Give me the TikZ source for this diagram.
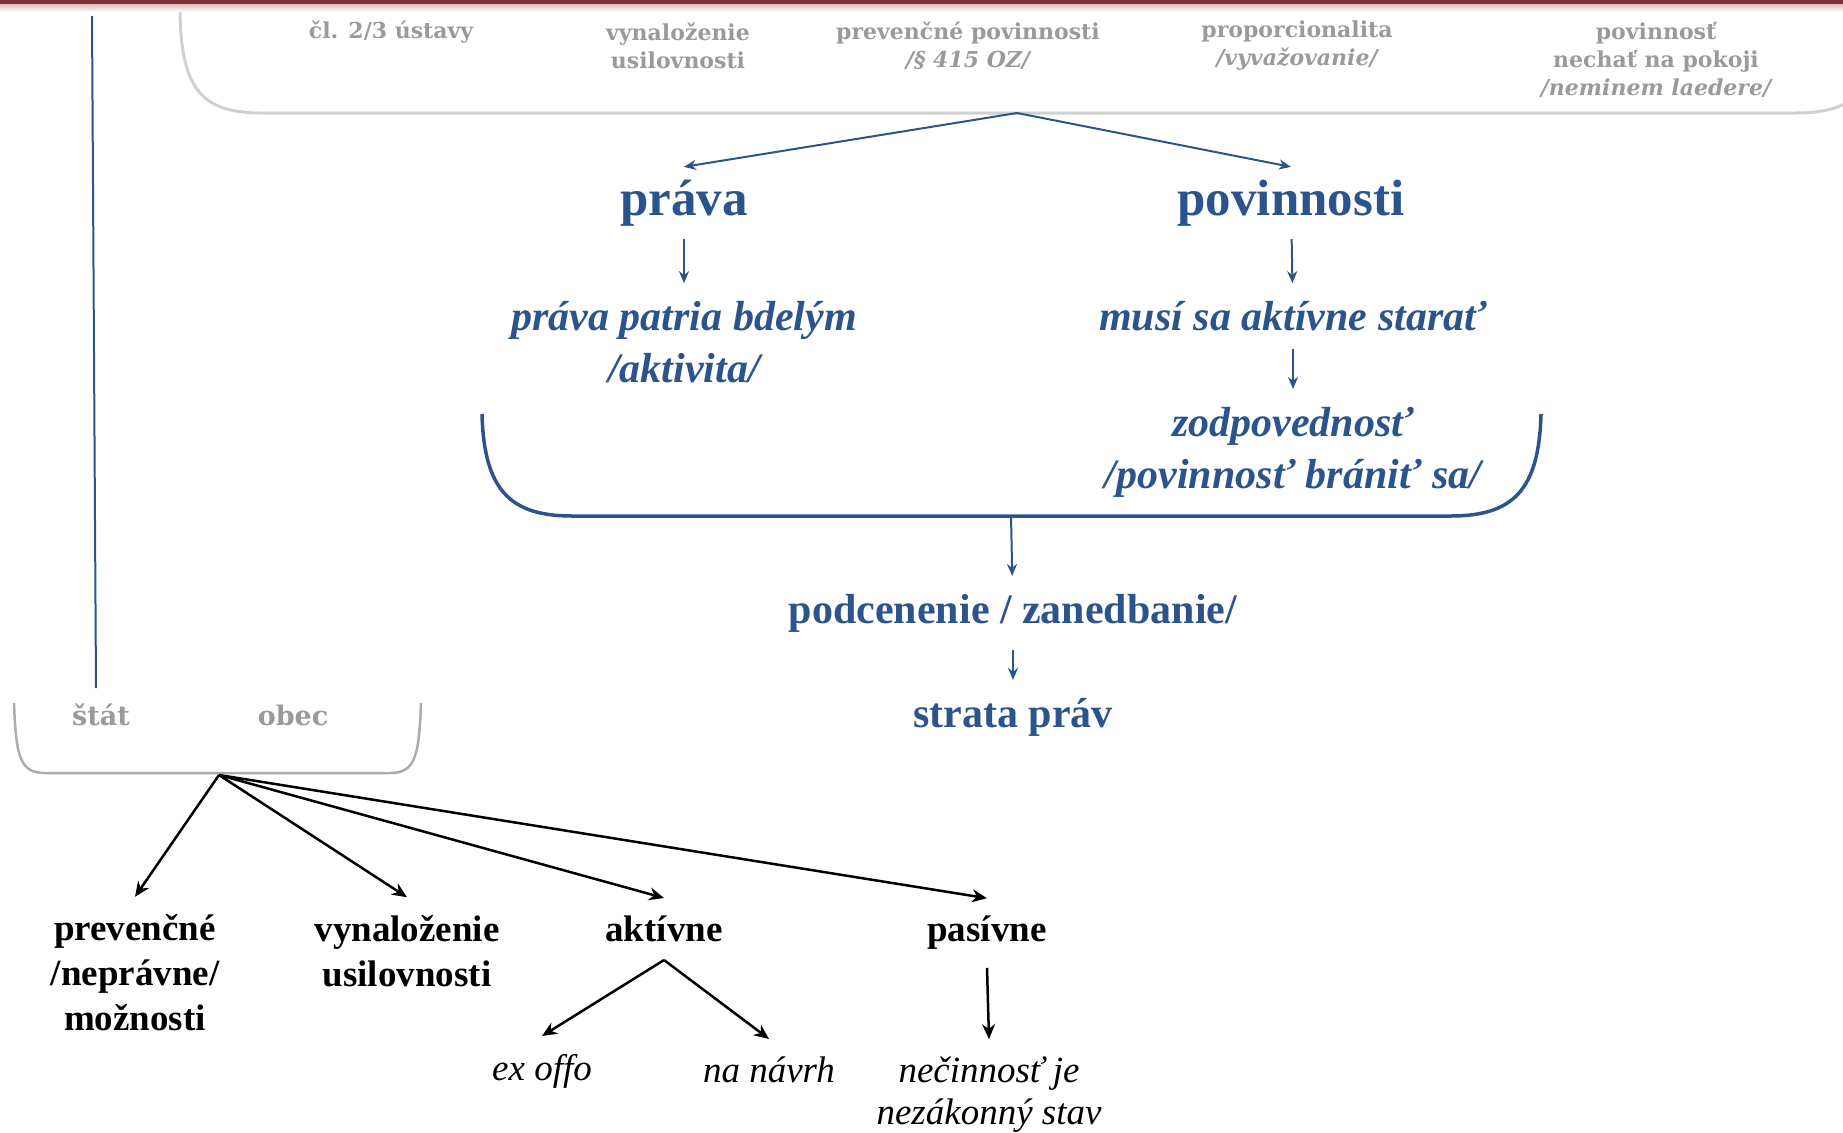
\documentclass[tikz,border=0pt]{standalone}
\usepackage{fontspec}
\setmainfont{Liberation Serif}
\newfontfamily\slabfont{DejaVu Serif}
\usetikzlibrary{arrows.meta,positioning}
\definecolor{darkblue}{RGB}{44,84,140}
\definecolor{lightgray}{RGB}{208,208,208}
\definecolor{midgray}{RGB}{172,172,172}
\definecolor{textgray}{RGB}{154,154,154}
\definecolor{bandred}{RGB}{122,50,54}
\definecolor{bandpink}{RGB}{228,196,196}

\tikzset{
  bluearrow/.style={darkblue,line width=2pt,-{Stealth[length=12pt,width=10pt]}},
  blackarrow/.style={black,line width=2.5pt,-{Stealth[length=15pt,width=13pt]}},
  bigblue/.style={darkblue,inner sep=0pt,outer sep=13pt,font=\fontsize{51}{58}\selectfont\bfseries},
  blue/.style={darkblue,inner sep=0pt,outer sep=18pt,align=center,font=\fontsize{42}{52}\selectfont\bfseries},
  blueit/.style={blue,font=\fontsize{42}{52}\selectfont\bfseries\itshape},
  black/.style={inner sep=0pt,outer sep=18pt,align=center,font=\fontsize{37}{45}\selectfont\bfseries},
  blackit/.style={inner sep=0pt,outer sep=18pt,align=center,font=\fontsize{37}{42}\selectfont\itshape},
  graytop/.style={textgray,inner sep=0pt,align=center,font=\slabfont\fontsize{22}{28}\selectfont\bfseries},
  graylow/.style={textgray,inner sep=0pt,font=\slabfont\fontsize{27}{32}\selectfont\bfseries},
}

\begin{document}
\begin{tikzpicture}[x=1pt,y=-1pt]
\useasboundingbox (0,0) rectangle (1843,1132);
%\draw[step=100,color=gray] (0,0) grid (1843,1132);
\fill[bandred] (0,0) rectangle (1843,5);
\shade[top color=bandpink,bottom color=white] (0,5) rectangle (1843,12);
\draw[darkblue,line width=2pt] (92,16) -- (96,688);

% brackets
\draw[lightgray,line width=3pt] (180,12) .. controls (181,92) and (204,113) .. (262,113) -- (1796,113) .. controls (1854,113) and (1877,92) .. (1878,12);
\draw[darkblue,line width=3.5pt] (482,414) .. controls (484,490) and (510,516) .. (572,516) -- (1451,516) .. controls (1513,516) and (1539,490) .. (1541,414);
\draw[midgray,line width=2.5pt] (14,703) .. controls (16,757) and (20,773) .. (45,773) -- (390,773) .. controls (415,773) and (419,757) .. (421,703);
\coordinate (topmid) at (1017,113);
\coordinate (bluemid) at (1011,516);
\coordinate (graymid) at (219,775);

\node[graytop] (clanok) at (391,32) {čl. 2/3 ústavy};
\node[graytop] (usilie) at (678,46) {vynaloženie\\usilovnosti};
\node[graytop] (prevpov) at (968,46) {prevenčné povinnosti\\{\itshape /§ 415 OZ/}};
\node[graytop] (propor) at (1297,46) {proporcionalita\\{\itshape /vyvažovanie/}};
\node[graytop] (pokoj) at (1656,60) {povinnosť\\nechať na pokoji\\{\itshape /neminem laedere/}};

\node[bigblue] (prava) at (684,203) {práva};
\node[bigblue] (povin) at (1291,203) {povinnosti};
\node[blueit] (bdelym) at (684,342) {práva patria bdelým\\/aktivita/};
\node[blueit] (starat) at (1293,316) {musí sa aktívne starať};
\node[blueit] (zodp) at (1293,452) {zodpovednosť\\/povinnosť brániť sa/};
\node[blue] (podcen) at (1013,613) {podcenenie / zanedbanie/};
\node[blue] (strata) at (1013,717) {strata práv};

\node[graylow] (stat) at (101,715) {štát};
\node[graylow] (obec) at (293,715) {obec};

\node[black] (prevent) at (135,973) {prevenčné\\/neprávne/\\možnosti};
\node[black] (vynal) at (407,951) {vynaloženie\\usilovnosti};
\node[black] (aktiv) at (664,929) {aktívne};
\node[black] (pasiv) at (987,933) {pasívne};
\node[blackit] (exoffo) at (542,1071) {ex offo};
\node[blackit] (navrh) at (769,1070) {na návrh};
\node[blackit] (necin) at (989,1095) {nečinnosť je\\nezákonný stav};

\draw[bluearrow] (topmid) -- (prava.north);
\draw[bluearrow] (topmid) -- (povin.north);
\draw[bluearrow] (prava) -- (bdelym);
\draw[bluearrow] (povin) -- (starat);
\draw[bluearrow] (starat) -- (zodp);
\draw[bluearrow] (bluemid) -- (podcen);
\draw[bluearrow] (podcen) -- (strata);

\draw[blackarrow] (graymid) -- (prevent.north);
\draw[blackarrow] (graymid) -- (vynal.north);
\draw[blackarrow] (graymid) -- (aktiv.north);
\draw[blackarrow] (graymid) -- (pasiv.north);
\draw[blackarrow] (aktiv.south) -- (exoffo.north);
\draw[blackarrow] (aktiv.south) -- (navrh.north);
\draw[blackarrow] (pasiv.south) -- (necin.north);
\end{tikzpicture}
\end{document}
